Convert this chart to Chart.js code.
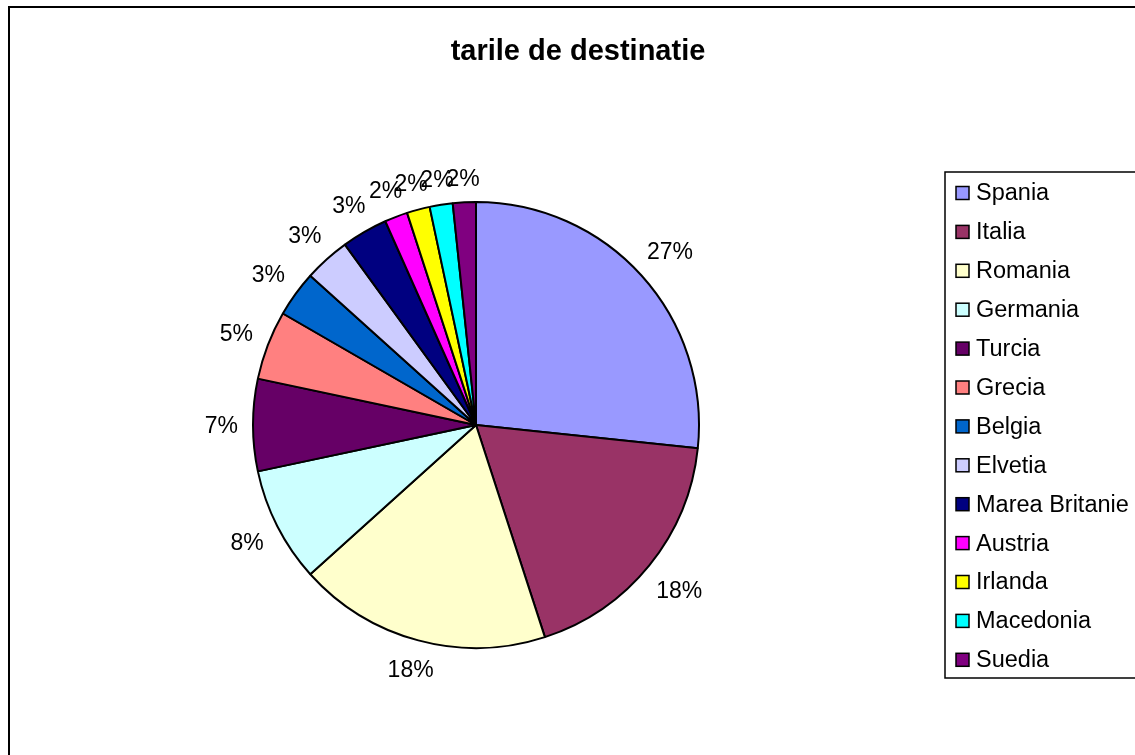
<!DOCTYPE html>
<html>
<head>
<meta charset="utf-8">
<script src="https://cdn.jsdelivr.net/npm/chart.js@4/dist/chart.umd.min.js"></script>
<style>
  html, body { margin: 0; padding: 0; background: #fff; }
  canvas { display: block; }
</style>
</head>
<body>
<canvas id="pieChart" width="1135" height="755"></canvas>
<script>
const countries = ['Spania', 'Italia', 'Romania', 'Germania', 'Turcia', 'Grecia', 'Belgia',
    'Elvetia', 'Marea Britanie', 'Austria', 'Irlanda', 'Macedonia', 'Suedia'];
const counts = [16, 11, 11, 5, 4, 3, 2, 2, 2, 1, 1, 1, 1];
const sliceColors = ['#9999FF', '#993366', '#FFFFCC', '#CCFFFF', '#660066', '#FF8080', '#0066CC',
    '#CCCCFF', '#000080', '#FF00FF', '#FFFF00', '#00FFFF', '#800080'];
const chartTitle = 'tarile de destinatie';

const FONT = '"Liberation Sans", Arial, sans-serif';

// percentage labels, title, legend and frame
const excelLook = {
    id: 'excelLook',
    afterDraw(chart) {
        const ctx = chart.ctx;
        const meta = chart.getDatasetMeta(0);
        const total = counts.reduce((a, b) => a + b, 0);

        ctx.save();
        ctx.fillStyle = '#000';
        ctx.font = '23px ' + FONT;
        ctx.textAlign = 'center';
        ctx.textBaseline = 'middle';
        meta.data.forEach(function (arc, i) {
            const mid = (arc.startAngle + arc.endAngle) / 2;
            const txt = Math.round(counts[i] / total * 100) + '%';
            const hw = ctx.measureText(txt).width / 2;
            const cs = Math.cos(mid), sn = Math.sin(mid);
            const d = arc.outerRadius + 15 + Math.abs(cs) * hw + Math.abs(sn) * 9;
            ctx.fillText(txt, arc.x + cs * d, arc.y + sn * d + 2);
        });

        // title
        ctx.font = 'bold 29px ' + FONT;
        ctx.textBaseline = 'alphabetic';
        ctx.fillText(chartTitle, 578, 60);

        // legend
        ctx.lineWidth = 1.5;
        ctx.strokeStyle = '#000';
        ctx.strokeRect(945, 172, 200, 506);
        ctx.font = '23.5px ' + FONT;
        ctx.textAlign = 'left';
        ctx.textBaseline = 'middle';
        countries.forEach(function (name, i) {
            const y = 193 + i * 38.9;
            ctx.fillStyle = sliceColors[i];
            ctx.fillRect(956, y - 6.5, 13, 13);
            ctx.strokeRect(956, y - 6.5, 13, 13);
            ctx.fillStyle = '#000';
            ctx.fillText(name, 976, y + 1);
        });

        // outer frame (right and bottom run off the page)
        ctx.lineWidth = 2;
        ctx.beginPath();
        ctx.moveTo(9, 760);
        ctx.lineTo(9, 7);
        ctx.lineTo(1140, 7);
        ctx.stroke();
        ctx.restore();
    }
};

const ctx = document.getElementById('pieChart').getContext('2d');
const myChart = new Chart(ctx, {
    type: 'pie',
    data: {
        labels: countries,
        datasets: [{
            data: counts,
            backgroundColor: sliceColors,
            borderColor: '#000',
            borderWidth: 2,
            radius: 223
        }]
    },
    options: {
        responsive: false,
        animation: false,
        layout: { padding: { left: 253, right: 436, top: 202, bottom: 107 } },
        plugins: {
            legend: { display: false },
            title: { display: false },
            tooltip: { enabled: false }
        }
    },
    plugins: [excelLook]
});
</script>
</body>
</html>
